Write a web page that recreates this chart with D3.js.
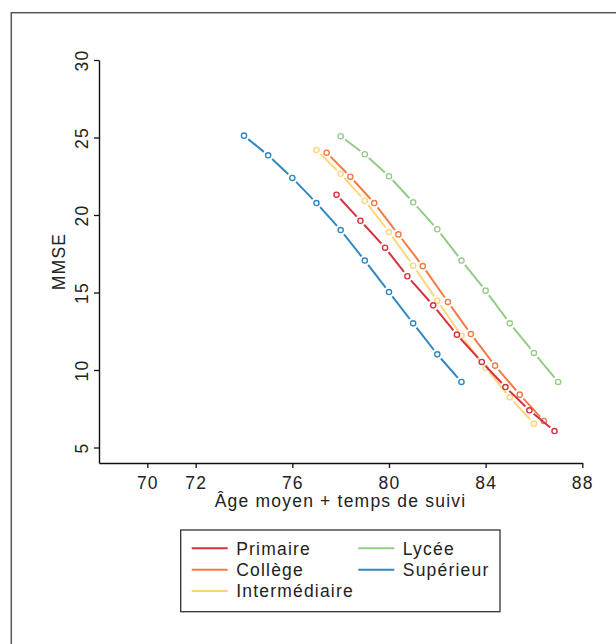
<!DOCTYPE html>
<html>
<head>
<meta charset="utf-8">
<script src="https://cdn.jsdelivr.net/npm/d3@7"></script>
<style>
  body { margin: 0; background: #fff; }
  svg text { font-family: "Liberation Sans", Arial, sans-serif; fill: #222; }
</style>
</head>
<body>
<svg id="chart" width="616" height="644"></svg>
<script>
// education levels, in legend order
var seriesNames = ["Primaire", "Collège", "Intermédiaire", "Lycée", "Supérieur"];
var seriesColors = ["#d6313f", "#f27b45", "#fdd67a", "#93cc86", "#2f87c0"];

// age (mean age + follow-up time) per series
var agePrimaire = [77.83, 78.82, 79.84, 80.76, 81.83, 82.81, 83.84, 84.82, 85.81, 86.85];
var ageCollege = [77.42, 78.4, 79.39, 80.39, 81.4, 82.44, 83.39, 84.39, 85.41, 86.41];
var ageIntermediaire = [77, 78, 79, 80, 81, 82, 83, 84, 85, 86];
var ageLycee = [78, 79, 80, 81, 82, 83, 84, 85, 86, 87];
var ageSuperieur = [74, 75, 76, 77, 78, 79, 80, 81, 82, 83];

// MMSE score per series
var mmsePrimaire = [21.31, 19.63, 17.89, 16.05, 14.17, 12.28, 10.52, 8.9, 7.4, 6.06];
var mmseCollege = [24.02, 22.47, 20.77, 18.75, 16.7, 14.39, 12.32, 10.28, 8.41, 6.71];
var mmseIntermediaire = [24.19, 22.66, 20.92, 18.9, 16.73, 14.47, 12.21, 10.13, 8.24, 6.54];
var mmseLycee = [25.08, 23.92, 22.5, 20.82, 19.08, 17.06, 15.12, 13.01, 11.1, 9.23];
var mmseSuperieur = [25.12, 23.85, 22.39, 20.77, 19.03, 17.06, 15.03, 13.01, 11.01, 9.23];

var xTicks = [70, 72, 76, 80, 84, 88];
var yTicks = [5, 10, 15, 20, 25, 30];

var ages = [agePrimaire, ageCollege, ageIntermediaire, ageLycee, ageSuperieur];
var scores = [mmsePrimaire, mmseCollege, mmseIntermediaire, mmseLycee, mmseSuperieur];

function buildSeries(){
    var list = [];
    for (var i = 0; i < seriesNames.length; i++){
        var pts = [];
        for (var j = 0; j < ages[i].length; j++){
            pts.push({x: ages[i][j], y: scores[i][j]});
        }
        list.push({name: seriesNames[i], color: seriesColors[i], points: pts});
    }
    return list;
}

var svg = d3.select("#chart");
var fontSize = 17.5;
var spacing = "1.2px";

// outer frame (runs off the picture on the right and bottom)
svg.append("rect")
    .attr("x", 11.3).attr("y", 12.7)
    .attr("width", 700).attr("height", 700)
    .attr("fill", "none")
    .attr("stroke", "#555")
    .attr("stroke-width", 1.5);

var x = d3.scaleLinear().domain([68, 88]).range([99, 582.3]);
var y = d3.scaleLinear().domain([4, 30]).range([463, 60]);

// axes
var xAxis = svg.append("g")
    .attr("transform", "translate(0,463)")
    .call(d3.axisBottom(x).tickValues(xTicks).tickSize(5).tickSizeOuter(0).tickFormat(d3.format("d")));
var yAxis = svg.append("g")
    .attr("transform", "translate(99,0)")
    .call(d3.axisLeft(y).tickValues(yTicks).tickSize(5).tickSizeOuter(0).tickFormat(d3.format("d")));

[xAxis, yAxis].forEach(function(ax){
    ax.select(".domain").attr("stroke", "#111").attr("stroke-width", 1.4);
    ax.selectAll(".tick line").attr("stroke", "#111").attr("stroke-width", 1.3);
    ax.selectAll(".tick text")
        .style("font-family", "Liberation Sans, Arial, sans-serif")
        .style("font-size", fontSize + "px")
        .style("letter-spacing", spacing)
        .attr("fill", "#222");
});

xAxis.selectAll(".tick text").attr("y", 13.5);
yAxis.selectAll(".tick text")
    .attr("transform", "rotate(-90)")
    .attr("x", 0).attr("y", -11.5).attr("dy", 0)
    .attr("text-anchor", "middle");

// axis titles
svg.append("text")
    .attr("x", 340.5).attr("y", 507)
    .attr("text-anchor", "middle")
    .style("font-size", fontSize + "px")
    .style("letter-spacing", spacing)
    .text("Âge moyen + temps de suivi");

svg.append("text")
    .attr("transform", "translate(65,261.5) rotate(-90)")
    .attr("text-anchor", "middle")
    .style("font-size", fontSize + "px")
    .style("letter-spacing", spacing)
    .text("MMSE");

// lines with gaps around points (like R type="b"), then open circles
var series = buildSeries();
var gap = 5.5;
var drawOrder = [4, 3, 2, 1, 0];

drawOrder.forEach(function(idx){
    var s = series[idx];
    var g = svg.append("g").attr("class", "series");
    var segs = [];
    for (var k = 0; k < s.points.length - 1; k++){
        var x1 = x(s.points[k].x), y1 = y(s.points[k].y);
        var x2 = x(s.points[k + 1].x), y2 = y(s.points[k + 1].y);
        var len = Math.sqrt((x2 - x1) * (x2 - x1) + (y2 - y1) * (y2 - y1));
        var ux = (x2 - x1) / len, uy = (y2 - y1) / len;
        segs.push({x1: x1 + ux * gap, y1: y1 + uy * gap, x2: x2 - ux * gap, y2: y2 - uy * gap});
    }
    g.selectAll("line").data(segs).enter().append("line")
        .attr("x1", function(d){ return d.x1; })
        .attr("y1", function(d){ return d.y1; })
        .attr("x2", function(d){ return d.x2; })
        .attr("y2", function(d){ return d.y2; })
        .attr("stroke", s.color)
        .attr("stroke-width", 2);
    g.selectAll("circle").data(s.points).enter().append("circle")
        .attr("cx", function(d){ return x(d.x); })
        .attr("cy", function(d){ return y(d.y); })
        .attr("r", 2.6)
        .attr("fill", "#fff")
        .attr("stroke", s.color)
        .attr("stroke-width", 1.4);
});

// legend
var legend = svg.append("g");
legend.append("rect")
    .attr("x", 180.7).attr("y", 530)
    .attr("width", 319.3).attr("height", 81.7)
    .attr("fill", "none")
    .attr("stroke", "#333")
    .attr("stroke-width", 1.3);

var legendCols = [191.7, 358.3];
var legendRows = [548.3, 569.7, 591.1];
var legendPos = [[0, 0], [0, 1], [0, 2], [1, 0], [1, 1]];

series.forEach(function(s, i){
    var lx = legendCols[legendPos[i][0]];
    var ly = legendRows[legendPos[i][1]];
    legend.append("line")
        .attr("x1", lx).attr("x2", lx + 36)
        .attr("y1", ly).attr("y2", ly)
        .attr("stroke", s.color)
        .attr("stroke-width", 2);
    legend.append("text")
        .attr("x", lx + 44.5).attr("y", ly + 6.2)
        .style("font-size", fontSize + "px")
        .style("letter-spacing", spacing)
        .text(s.name);
});
</script>
</body>
</html>
